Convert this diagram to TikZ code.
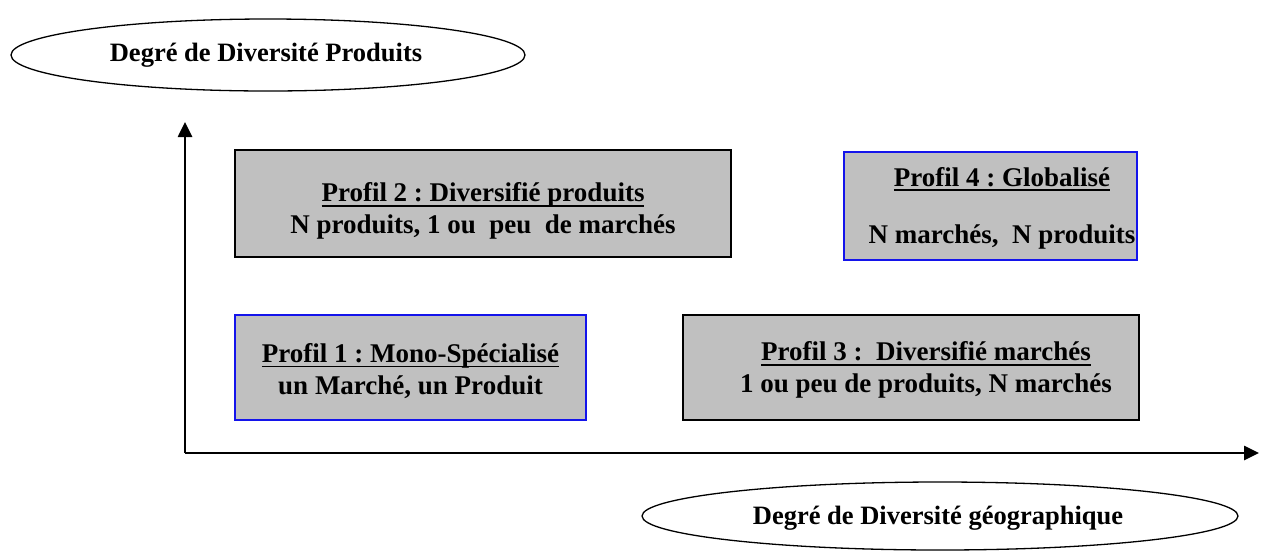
\documentclass[tikz,border=0pt]{standalone}
\usepackage{fontspec}
\setmainfont{Liberation Serif}
\usetikzlibrary{shapes.geometric,arrows.meta}
\definecolor{boxgray}{RGB}{192,192,192}
\definecolor{boxblue}{RGB}{20,20,235}
\frenchspacing
% underline drawn just below the baseline, crossing the descenders
\newcommand\ulinetext[1]{\leavevmode\setbox0=\hbox{#1}%
  \rlap{\rule[-5pt]{\wd0}{1.8pt}}\box0}
\tikzset{
  axisellipse/.style={ellipse, draw=black, line width=1.3pt, fill=white, inner sep=0pt},
  axistext/.style={font=\bfseries\fontsize{26.5}{30}\selectfont, inner sep=0pt},
  profilebox/.style={rectangle, fill=boxgray, draw=black, line width=1.4pt, inner sep=0pt},
  bluebox/.style={profilebox, draw=boxblue},
  profiletext/.style={align=center, font=\bfseries\fontsize{27}{32}\selectfont, inner sep=0pt},
  axisline/.style={line width=2.6pt, -{Triangle[length=15pt,width=14pt]}}
}
\begin{document}
\begin{tikzpicture}[x=1pt,y=-1pt]
  \useasboundingbox (0,0) rectangle (1261,550);
  % axes
  \coordinate (O) at (185,453);
  \coordinate (ytip) at (185,122);
  \coordinate (xtip) at (1259,453);
  \draw[axisline] (O) -- (ytip);
  \draw[axisline] (O) -- (xtip);
  % axis captions
  \node[axisellipse, minimum width=514pt, minimum height=72pt] (ylab) at (268,55) {};
  \node[axistext] (ylabtext) at (266,55) {Degré de Diversité Produits};
  \node[axisellipse, minimum width=596pt, minimum height=68pt] (xlab) at (940,516) {};
  \node[axistext] (xlabtext) at (938,518) {Degré de Diversité géographique};
  % profiles
  \node[profilebox, minimum width=496pt, minimum height=107pt] (p2) at (483,203.5) {};
  \node[profiletext] (p2text) at (483,211)
    {\ulinetext{Profil 2 : Diversifié produits}\\N produits, 1 ou\ \ peu\ \ de marchés};
  \node[bluebox, minimum width=293pt, minimum height=108pt] (p4) at (990.5,206) {};
  \node[profiletext, font=\bfseries\fontsize{27}{57}\selectfont] (p4text) at (1002,208)
    {\ulinetext{Profil 4 : Globalisé}\\N marchés,\ \ N produits};
  \node[bluebox, minimum width=351pt, minimum height=105pt] (p1) at (410.5,367.5) {};
  \node[profiletext] (p1text) at (410.5,371)
    {\ulinetext{Profil 1 : Mono-Spécialisé}\\un Marché, un Produit};
  \node[profilebox, minimum width=456pt, minimum height=105pt] (p3) at (911,367.5) {};
  \node[profiletext] (p3text) at (926,370)
    {\ulinetext{Profil 3 :\ \ Diversifié marchés}\\1 ou peu de produits, N marchés};
\end{tikzpicture}
\end{document}
